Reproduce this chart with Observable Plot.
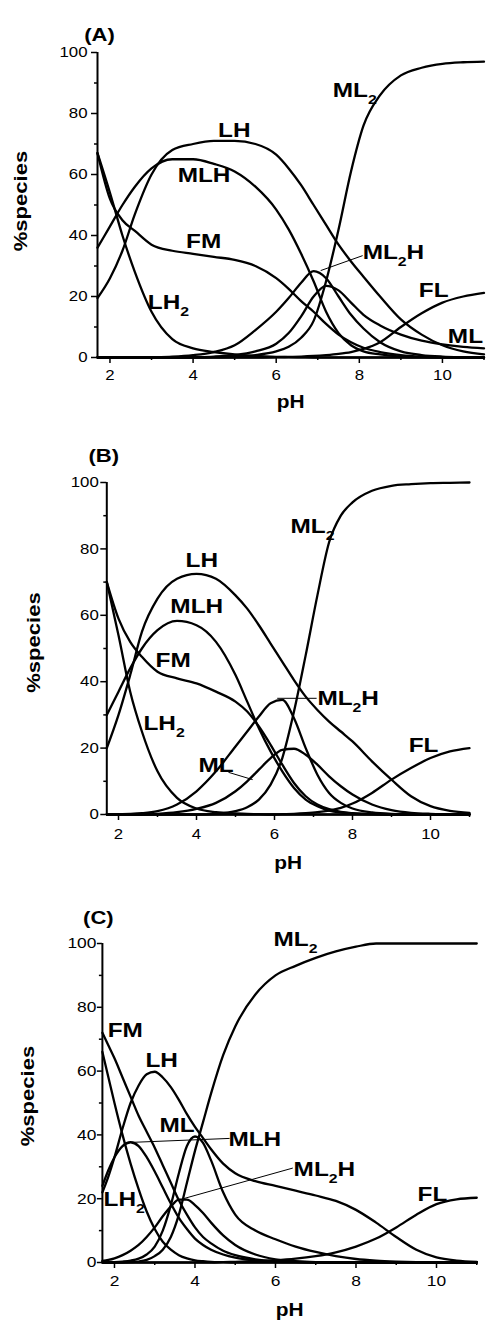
<!DOCTYPE html>
<html><head><meta charset="utf-8">
<script src="https://cdn.jsdelivr.net/npm/d3@7"></script>
<script src="https://cdn.jsdelivr.net/npm/@observablehq/plot@0.6"></script>
<style>
body{margin:0;background:#fff;}
#wrap{position:relative;width:486px;height:1328px;overflow:hidden;}
#wrap svg{position:absolute;left:0;}
</style></head><body><div id="wrap"></div>
<script>
// ---------- shared axis ticks ----------
const xMajor = [2, 4, 6, 8, 10];
const xMinor = [3, 5, 7, 9, 11];
const yMajor = [0, 20, 40, 60, 80, 100];
const yMinor = [10, 30, 50, 70, 90];
const xDomain = [1.7, 11];
const speciesNames = ["LH2", "FM", "MLH", "LH", "ML2H", "ML", "ML2", "FL"];

// ---------- Panel A ----------
const pH_A   = [1.7, 2.0, 2.3, 2.6, 3.0, 3.5, 4.0, 4.5, 5.0, 5.5, 6.0, 6.3, 6.6, 6.9, 7.2, 7.5, 7.8, 8.1, 8.5, 9.0, 9.5, 10.0, 10.5, 11.0];
const LH2_A  = [67, 54, 40, 28, 15, 6, 3, 1.8, 1, 0.5, 0.2, 0.1, 0.05, 0, 0, 0, 0, 0, 0, 0, 0, 0, 0, 0];
const FM_A   = [67, 52, 45, 41.5, 37, 35, 34, 33, 32, 30, 26, 22.5, 18.5, 15, 11, 7.5, 5, 3.2, 1.8, 0.8, 0.3, 0.1, 0, 0];
const MLH_A  = [36, 43, 50, 56, 62, 65, 65, 63.5, 61, 56, 48.5, 42, 34, 25, 15, 8, 4, 2, 1, 0.3, 0.1, 0, 0, 0];
const LH_A   = [19.5, 26, 35, 47, 60, 68, 70, 71, 71, 70, 66.5, 62, 56.5, 50, 43.5, 37, 31.5, 26.5, 20, 12.5, 7.5, 4, 2, 1];
const ML2H_A = [0, 0, 0, 0, 0.1, 0.3, 0.8, 1.8, 4, 9, 15, 19.5, 24.5, 28.3, 26, 20, 14, 9.5, 5, 2, 0.8, 0.3, 0.1, 0];
const ML_A   = [0, 0, 0, 0, 0, 0, 0.1, 0.3, 0.8, 2, 4.5, 8, 13.5, 20, 23.5, 22, 18, 14, 10.5, 7.5, 5.5, 4.3, 3.5, 3];
const ML2_A  = [0, 0, 0, 0, 0, 0, 0, 0.1, 0.3, 0.8, 2, 3.5, 6.5, 12, 25, 42, 61, 76, 86, 92.5, 95, 96.3, 96.8, 97];
const FL_A   = [0, 0, 0, 0, 0, 0, 0, 0, 0, 0, 0.1, 0.2, 0.3, 0.5, 0.8, 1.2, 1.8, 2.8, 5, 10, 14.5, 18, 20, 21.2];
const labA_text = ["LH", "ML₂", "MLH", "FM", "ML₂H", "LH₂", "FL", "ML"];
const labA_pH   = [4.60, 7.36, 3.63, 3.83, 8.08, 2.91, 9.43, 10.13];
const labA_pct  = [74.6, 87.5, 59.7, 38, 34.4, 18.2, 22, 7];
const leadA_x1 = [7.07], leadA_y1 = [28.5], leadA_x2 = [8.08], leadA_y2 = [33.4];

// ---------- Panel B ----------
const pH_B   = [1.7, 2.0, 2.3, 2.6, 3.0, 3.5, 4.0, 4.5, 5.0, 5.3, 5.6, 5.9, 6.2, 6.5, 6.8, 7.1, 7.4, 7.7, 8.0, 8.5, 9.0, 9.5, 10.0, 10.5, 11.0];
const LH2_B  = [70, 54, 37, 25, 13, 5, 1.8, 0.7, 0.3, 0.15, 0.1, 0, 0, 0, 0, 0, 0, 0, 0, 0, 0, 0, 0, 0, 0];
const FM_B   = [70, 59, 52, 47.5, 43, 41, 39.5, 37, 34, 31, 26.5, 21, 15, 9.5, 5.5, 3, 1.6, 0.8, 0.4, 0.1, 0, 0, 0, 0, 0];
const MLH_B  = [30, 37, 44, 50, 55.5, 58.3, 57, 52, 42, 34, 26, 19, 13, 8, 4.5, 2.5, 1.2, 0.6, 0.3, 0.1, 0, 0, 0, 0, 0];
const LH_B   = [20, 30, 42, 55, 65, 71, 72.5, 71, 66, 62, 57, 51.5, 46, 40.5, 35.5, 31.5, 28, 25, 22, 16, 10.5, 5.5, 2.5, 1.1, 0.5];
const ML2H_B = [0, 0.1, 0.2, 0.4, 1, 3, 7, 13, 20.5, 25, 29.5, 33.5, 34.5, 29, 20, 12, 6.5, 3.5, 1.8, 0.6, 0.2, 0.1, 0, 0, 0];
const ML_B   = [0, 0, 0, 0, 0.2, 0.7, 1.7, 3.5, 7, 10, 13.5, 17, 19.5, 19.8, 18, 15, 11.5, 8.5, 6, 3, 1.3, 0.5, 0.2, 0.1, 0];
const ML2_B  = [0, 0, 0, 0, 0, 0, 0, 0.2, 1, 2.2, 4.5, 9, 17, 31, 48, 66, 82, 90, 94, 97.5, 99, 99.5, 99.8, 99.9, 100];
const FL_B   = [0, 0, 0, 0, 0, 0, 0, 0, 0, 0, 0, 0, 0.1, 0.2, 0.4, 0.7, 1.2, 2, 3.3, 6.5, 10.5, 14, 17, 19, 20];
const labB_text = ["ML₂", "LH", "MLH", "FM", "ML₂H", "LH₂", "ML", "FL"];
const labB_pH   = [6.41, 3.72, 3.33, 2.95, 7.10, 2.64, 4.05, 9.44];
const labB_pct  = [86.7, 76.5, 62.6, 46.4, 34.9, 27.6, 14.8, 21];
const leadB_x1 = [6.07, 4.82], leadB_y1 = [35, 12.7], leadB_x2 = [7.08, 5.44], leadB_y2 = [35, 10.5];

// ---------- Panel C ----------
const pH_C   = [1.7, 1.85, 2.0, 2.2, 2.4, 2.6, 2.8, 3.0, 3.2, 3.4, 3.6, 3.8, 4.0, 4.2, 4.4, 4.7, 5.0, 5.5, 6.0, 6.5, 7.0, 7.5, 8.0, 8.5, 9.0, 9.5, 10.0, 10.5, 11.0];
const LH2_C  = [66, 58, 50, 40, 31, 23, 16, 10.5, 6.5, 4, 2.3, 1.3, 0.7, 0.4, 0.2, 0.1, 0, 0, 0, 0, 0, 0, 0, 0, 0, 0, 0, 0, 0];
const FM_C   = [72, 68, 64, 58, 52, 46, 41, 36, 30.5, 25, 19.5, 15, 11, 8, 6, 3.7, 2.3, 1, 0.4, 0.2, 0.1, 0, 0, 0, 0, 0, 0, 0, 0];
const MLH_C  = [24, 29, 33, 36.5, 37.7, 36.5, 33, 28.5, 23.5, 18.5, 14, 10.5, 7.5, 5.5, 4, 2.5, 1.5, 0.6, 0.2, 0.1, 0, 0, 0, 0, 0, 0, 0, 0, 0];
const LH_C   = [22, 27, 33, 42, 50, 55.5, 59, 59.8, 58, 55, 51, 46.5, 42.5, 39, 35.5, 31, 28, 25.5, 24, 22.5, 21, 19.3, 16.5, 12.5, 8, 4, 1.6, 0.6, 0.2];
const ML2H_C = [0.5, 0.8, 1.3, 2.3, 3.7, 5.5, 8, 11, 14.5, 17.5, 19.7, 19.7, 18, 15.5, 12.5, 8.5, 5.5, 2.5, 1, 0.4, 0.1, 0, 0, 0, 0, 0, 0, 0, 0];
const ML_C   = [0, 0, 0.1, 0.3, 0.6, 1.2, 2.5, 5, 10, 18, 28, 36.5, 39.5, 37.5, 32, 22, 15, 10, 7.3, 5, 3.3, 2, 1.1, 0.6, 0.3, 0.1, 0, 0, 0];
const ML2_C  = [0, 0, 0, 0, 0.1, 0.3, 0.8, 2, 4, 8, 15, 25, 35, 44, 53, 65, 74, 84, 90, 93, 95.5, 97.5, 99, 100, 100, 100, 100, 100, 100];
const FL_C   = [0, 0, 0, 0, 0, 0, 0, 0, 0, 0, 0, 0, 0, 0, 0, 0.1, 0.2, 0.4, 0.7, 1.2, 2, 3.2, 5, 7.5, 11, 15, 18.3, 19.8, 20.3];
const labC_text = ["ML₂", "FM", "LH", "ML", "MLH", "ML₂H", "LH₂", "FL"];
const labC_pH   = [5.95, 1.83, 2.77, 3.12, 4.83, 6.45, 1.73, 9.53];
const labC_pct  = [101.4, 72.7, 63.5, 43, 38.7, 29.3, 19.7, 21.5];
const leadC_x1 = [2.32, 3.71], leadC_y1 = [37.6, 20], leadC_x2 = [4.86, 6.43], leadC_y2 = [38.9, 29.6];

// ---------- helpers ----------
function tidy(grid, series) {
  const rows = [];
  series.forEach((vals, k) => vals.forEach((v, i) => rows.push({pH: grid[i], pct: v, species: speciesNames[k]})));
  return rows;
}
function zipLabels(t, x, y) { return t.map((s, i) => ({text: s, pH: x[i], pct: y[i]})); }
function zipLeads(x1, y1, x2, y2) { return x1.map((v, i) => ({x1: v, y1: y1[i], x2: x2[i], y2: y2[i]})); }

const FONT = "'Liberation Sans', Arial, Helvetica, sans-serif";
const LABEL_FS = 21;

function panel(cfg) {
  const svg = Plot.plot({
    width: 486, height: cfg.height,
    marginTop: cfg.mt, marginBottom: cfg.mb, marginLeft: cfg.ml, marginRight: cfg.mr,
    x: {domain: xDomain},
    y: {domain: [0, 100]},
    style: {fontFamily: FONT, color: "#000", background: "transparent"},
    marks: [
      Plot.line(cfg.rows, {x: "pH", y: "pct", z: "species", stroke: "#000", strokeWidth: 2.3, curve: "monotone-x", strokeLinejoin: "round"}),
      Plot.link(cfg.leads, {x1: "x1", y1: "y1", x2: "x2", y2: "y2", stroke: "#000", strokeWidth: 1}),
      Plot.ruleX([xDomain[0]], {stroke: "#000", strokeWidth: 2}),
      Plot.ruleY([0], {stroke: "#000", strokeWidth: 2}),
      Plot.axisY(yMajor, {tickSize: cfg.yts, tickPadding: cfg.ytp, fontSize: cfg.tfs, label: null, strokeWidth: 1.5}),
      Plot.axisY(yMinor, {tickSize: 3, tickFormat: () => "", label: null, strokeWidth: 1.5}),
      Plot.axisX(xMajor, {tickSize: 6, tickPadding: cfg.xtp, fontSize: cfg.tfs, label: null, strokeWidth: 1.5}),
      Plot.axisX(xMinor, {tickSize: 3, tickFormat: () => "", label: null, strokeWidth: 1.5}),
      Plot.text(cfg.labels, {x: "pH", y: "pct", text: "text", textAnchor: "start", fontSize: LABEL_FS, fontWeight: "bold", fill: "#000"}),
      Plot.text([cfg.letter], {text: d => d, frameAnchor: "top-left", dx: cfg.letterDx, dy: cfg.letterDy, textAnchor: "middle", fontSize: 19, fontWeight: "bold"}),
      Plot.text(["pH"], {text: d => d, frameAnchor: "bottom", dy: cfg.phDy, textAnchor: "middle", fontSize: 18, fontWeight: "bold"}),
      Plot.text(["%species"], {text: d => d, frameAnchor: "left", dx: cfg.spDx, dy: cfg.spDy, rotate: -90, textAnchor: "middle", fontSize: 19, fontWeight: "bold"})
    ]
  });
  svg.style.top = cfg.top + "px";
  document.getElementById("wrap").appendChild(svg);
  // subscripts + horizontal widening of glyphs to match the reference
  svg.querySelectorAll("text").forEach(t => {
    const s = t.textContent;
    const i = s.indexOf("₂");
    if (i >= 0) {
      const ns = "http://www.w3.org/2000/svg";
      t.textContent = "";
      const a = document.createElementNS(ns, "tspan"); a.textContent = s.slice(0, i); t.appendChild(a);
      const b = document.createElementNS(ns, "tspan"); b.textContent = "2";
      b.setAttribute("font-size", "0.65em"); b.setAttribute("dy", "7"); t.appendChild(b);
      if (i + 1 < s.length) {
        const c = document.createElementNS(ns, "tspan"); c.textContent = s.slice(i + 1);
        c.setAttribute("dy", "-7"); t.appendChild(c);
      }
    }
    const tr = t.getAttribute("transform") || "";
    t.setAttribute("transform", tr + " scale(1.16,1)");
  });
}

panel({
  top: 0, height: 422, mt: 52, mb: 65, ml: 97, mr: 2.5,
  rows: tidy(pH_A, [LH2_A, FM_A, MLH_A, LH_A, ML2H_A, ML_A, ML2_A, FL_A]),
  labels: zipLabels(labA_text, labA_pH, labA_pct),
  leads: zipLeads(leadA_x1, leadA_y1, leadA_x2, leadA_y2),
  yts: 6, ytp: 4, xtp: 6, tfs: 14.5,
  letter: "(A)", letterDx: 2, letterDy: -25, phDy: 50, spDx: -77, spDy: -4
});
panel({
  top: 425, height: 455, mt: 57, mb: 66, ml: 106.3, mr: 17,
  rows: tidy(pH_B, [LH2_B, FM_B, MLH_B, LH_B, ML2H_B, ML_B, ML2_B, FL_B]),
  labels: zipLabels(labB_text, labB_pH, labB_pct),
  leads: zipLeads(leadB_x1, leadB_y1, leadB_x2, leadB_y2),
  yts: 6, ytp: 2, xtp: 8, tfs: 14.5,
  letter: "(B)", letterDx: -3, letterDy: -34, phDy: 54, spDx: -73, spDy: -6
});
panel({
  top: 885, height: 443, mt: 58, mb: 66, ml: 101.9, mr: 9.75,
  rows: tidy(pH_C, [LH2_C, FM_C, MLH_C, LH_C, ML2H_C, ML_C, ML2_C, FL_C]),
  labels: zipLabels(labC_text, labC_pH, labC_pct),
  leads: zipLeads(leadC_x1, leadC_y1, leadC_x2, leadC_y2),
  yts: 5, ytp: 1, xtp: 7, tfs: 15,
  letter: "(C)", letterDx: -4, letterDy: -33, phDy: 53, spDx: -74, spDy: -7
});
</script></body></html>
